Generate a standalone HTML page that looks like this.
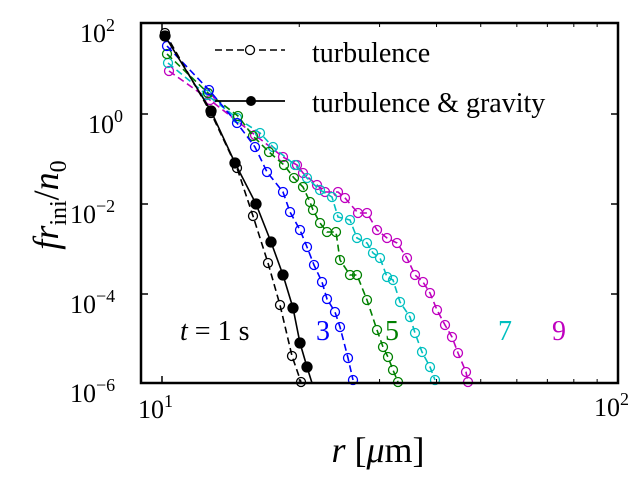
<!DOCTYPE html>
<html><head><meta charset="utf-8"><style>body{margin:0;background:#fff}svg{display:block}</style></head><body>
<svg width="640" height="480" xmlns="http://www.w3.org/2000/svg" font-family="'Liberation Serif',serif">
<rect width="640" height="480" fill="#fff"/>
<g id="plot" fill="none" stroke-width="1.6"></g>
<g stroke="#000" stroke-width="1.5">
<line x1="162" y1="383" x2="162" y2="376"/><line x1="162" y1="23" x2="162" y2="30"/>
<line x1="141" y1="114" x2="148" y2="114"/><line x1="141" y1="204" x2="148" y2="204"/><line x1="141" y1="294" x2="148" y2="294"/>
<line x1="618" y1="114" x2="611" y2="114"/><line x1="618" y1="204" x2="611" y2="204"/><line x1="618" y1="294" x2="611" y2="294"/>
</g>
<g id="minor" stroke="#000" stroke-width="1"></g>
<rect x="141" y="23" width="477" height="360" fill="none" stroke="#000" stroke-width="2.5"/>
<g font-size="26" fill="#000">
<text x="80" y="42">10<tspan font-size="18" dy="-11">2</tspan></text>
<text x="88" y="133">10<tspan font-size="18" dy="-11">0</tspan></text>
<text x="70" y="223">10<tspan font-size="18" dy="-11">−2</tspan></text>
<text x="70" y="313">10<tspan font-size="18" dy="-11">−4</tspan></text>
<text x="70" y="402">10<tspan font-size="18" dy="-11">−6</tspan></text>
<text x="138" y="418">10<tspan font-size="18" dy="-11">1</tspan></text>
<text x="594" y="416">10<tspan font-size="18" dy="-11">2</tspan></text>
</g>
<text font-size="36" x="378" y="462" text-anchor="middle"><tspan font-style="italic">r</tspan> [<tspan font-style="italic">μ</tspan>m]</text>
<text font-size="36" transform="translate(58,205) rotate(-90)" text-anchor="middle"><tspan font-style="italic">fr</tspan><tspan font-size="24" dy="8">ini</tspan><tspan dy="-8">/</tspan><tspan font-style="italic">n</tspan><tspan font-size="24" dy="8">0</tspan></text>
<g font-size="28">
<text x="312" y="62">turbulence</text>
<text x="312" y="112">turbulence &amp; gravity</text>
<text x="180" y="340"><tspan font-style="italic">t</tspan> = 1 s</text>
<text x="316" y="340" fill="#00f">3</text>
<text x="385" y="340" fill="#008000">5</text>
<text x="498" y="340" fill="#00bfbf">7</text>
<text x="552" y="340" fill="#bf00bf">9</text>
</g>
<line x1="215" y1="50" x2="285" y2="50" stroke="#000" stroke-width="1.6" stroke-dasharray="7,4"/>
<circle cx="250" cy="50" r="4.5" fill="#fff" stroke="#000" stroke-width="1.3"/>
<line x1="215" y1="101" x2="285" y2="101" stroke="#000" stroke-width="1.8"/>
<circle cx="251" cy="101" r="5" fill="#000"/>
<script>
const P={
bs:[[165,36],[211,111],[235,163],[256,204],[271,242],[283,275],[293,308],[300,343],[307,367],[312,383]],
bd:[[165,33],[211,113],[237,168],[253,216],[268,263],[280,305],[292,356],[301,382]],
b:[[167,46],[209,90],[237,123],[255,147],[267,172],[283,192],[290,212],[300,230],[307,247],[314,265],[322,282],[327,299],[335,312],[340,327],[348,358],[353,380]],
g:[[167,54],[208,93],[238,116],[253,136],[269,152],[284,165],[294,178],[303,187],[310,202],[313,210],[320,223],[327,232],[336,232],[340,260],[350,275],[357,275],[367,300],[377,330],[383,347],[388,357],[393,370],[398,382]],
c:[[168,63],[207,95],[237,118],[260,133],[273,147],[295,165],[307,178],[320,190],[332,197],[338,217],[350,220],[357,238],[367,243],[373,253],[380,258],[387,277],[393,280],[400,302],[410,317],[415,333],[422,352],[430,367],[435,380]],
m:[[169,71],[210,100],[255,135],[283,157],[297,165],[303,173],[317,185],[325,192],[338,192],[345,198],[358,213],[367,213],[377,230],[387,238],[397,243],[407,258],[415,275],[423,282],[430,293],[437,310],[445,325],[452,337],[458,353],[466,372],[468,382]]};
const col={bs:'#000',bd:'#000',b:'#00f',g:'#008000',c:'#00bfbf',m:'#bf00bf'};
const ns='http://www.w3.org/2000/svg';const g=document.getElementById('plot');
for(const k of ['m','c','g','b','bd','bs']){
 const pl=document.createElementNS(ns,'polyline');
 pl.setAttribute('points',P[k].map(p=>p.join(',')).join(' '));
 pl.setAttribute('stroke',col[k]);
 if(k!='bs')pl.setAttribute('stroke-dasharray','7,4');
 g.appendChild(pl);
 const pts=(k=='bs')?P[k].slice(0,-1):P[k];
 for(const p of pts){const c=document.createElementNS(ns,'circle');
  c.setAttribute('cx',p[0]);c.setAttribute('cy',p[1]);c.setAttribute('r',k=='bs'?5:4.5);
  c.setAttribute('stroke',col[k]);c.setAttribute('stroke-width',1.3);
  c.setAttribute('fill',k=='bs'?'#000':'none');g.appendChild(c);}
}
const mg=document.getElementById('minor');
for(let v=20;v<100;v+=10){const x=162+456*Math.log10(v/10);
 for(const [y1,y2] of [[383,379],[23,27]]){const l=document.createElementNS(ns,'line');
 l.setAttribute('x1',x);l.setAttribute('x2',x);l.setAttribute('y1',y1);l.setAttribute('y2',y2);mg.appendChild(l);}}
</script>
</svg>
</body></html>
